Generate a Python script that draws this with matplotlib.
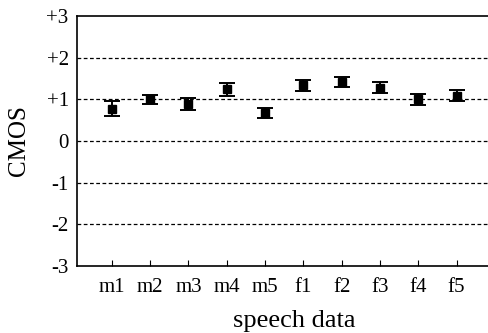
import matplotlib
matplotlib.use("Agg")
import matplotlib.pyplot as plt

categories = ["m1", "m2", "m3", "m4", "m5", "f1", "f2", "f3", "f4", "f5"]
means = [0.78, 1.00, 0.89, 1.24, 0.68, 1.34, 1.41, 1.28, 1.00, 1.09]
errors = [0.18, 0.11, 0.14, 0.155, 0.12, 0.13, 0.12, 0.13, 0.135, 0.13]
ytick_vals = [-3, -2, -1, 0, 1, 2, 3]
ytick_labels = ["-3", "-2", "-1", "0", "+1", "+2", "+3"]

plt.rcParams['font.family'] = ['Liberation Serif', 'DejaVu Serif']

W, H = 489, 333
fig = plt.figure(figsize=(W / 100, H / 100), dpi=100)
left, right, top, bottom = 77, 511, 16, 266
ax = fig.add_axes([left / W, 1 - bottom / H, (right - left) / W, (bottom - top) / H])

x = list(range(1, len(categories) + 1))
ax.errorbar(x, means, yerr=errors, fmt='s', color='black', markersize=5.5,
            capsize=5.5, elinewidth=1.4, capthick=1.4, zorder=3)

for v in [-2, -1, 0, 1, 2]:
    ax.axhline(v, color='black', linestyle=(0, (3, 2)), linewidth=0.9, zorder=1)

ax.set_ylim(-3, 3)
ax.set_xlim(0.09, 11.42)
ax.set_yticks(ytick_vals)
ax.set_yticklabels(ytick_labels)
ax.set_xticks(x)
ax.set_xticklabels(categories)
ax.tick_params(axis='y', length=0, labelsize=15, pad=6)
ax.tick_params(axis='x', direction='in', length=4, labelsize=15, pad=9)
ax.spines['right'].set_visible(False)
for s in ['left', 'bottom', 'top']:
    ax.spines[s].set_linewidth(1.2)
ax.set_ylabel("CMOS", fontsize=18, labelpad=12)
ax.set_xlabel("speech data", fontsize=19, labelpad=9)

fig.savefig("out.png", dpi=100)
